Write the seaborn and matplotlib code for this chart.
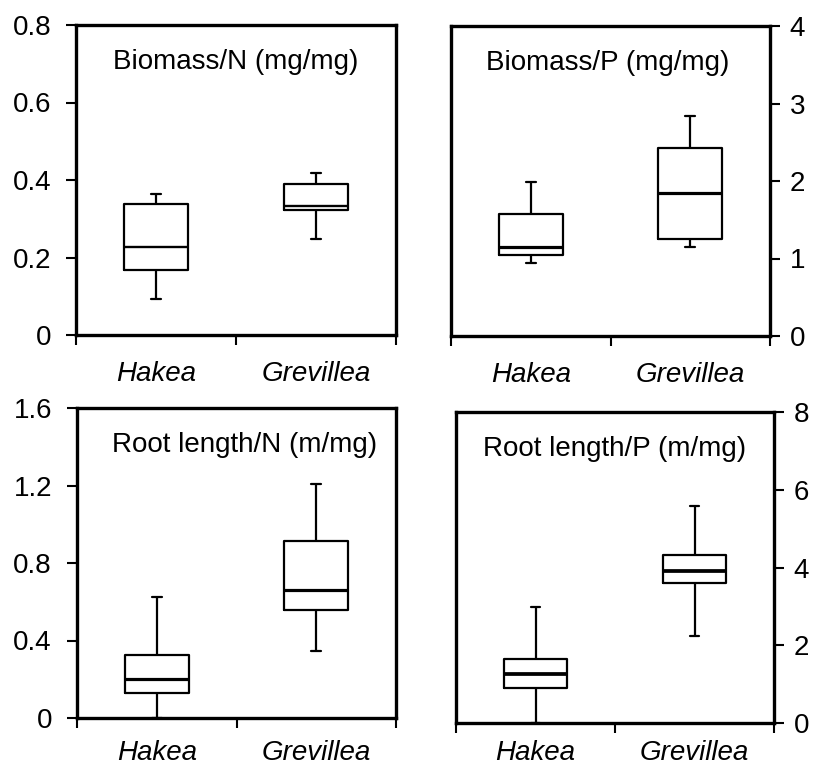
import numpy as np
import pandas as pd
import matplotlib
matplotlib.use("Agg")
import matplotlib.pyplot as plt
import seaborn as sns
from matplotlib.ticker import FixedLocator, FixedFormatter

sns.set_style("ticks")
plt.rcParams["font.family"] = ["Liberation Sans", "DejaVu Sans"]
for k in ["text.color", "axes.labelcolor", "xtick.color", "ytick.color", "axes.edgecolor"]:
    plt.rcParams[k] = "black"

genera = ["Hakea", "Grevillea"]

# five-number summaries: min, Q1, median, Q3, max
biomass_n_hakea = [0.094, 0.169, 0.226, 0.339, 0.364]
biomass_n_grevillea = [0.247, 0.322, 0.333, 0.390, 0.419]
biomass_p_hakea = [0.94, 1.045, 1.144, 1.58, 1.99]
biomass_p_grevillea = [1.15, 1.256, 1.85, 2.43, 2.84]
rootlen_n_hakea = [0.0, 0.131, 0.203, 0.326, 0.625]
rootlen_n_grevillea = [0.346, 0.560, 0.663, 0.913, 1.209]
rootlen_p_hakea = [0.0, 0.893, 1.253, 1.648, 2.98]
rootlen_p_grevillea = [2.23, 3.60, 3.90, 4.31, 5.59]

titles = ["Biomass/N (mg/mg)", "Biomass/P (mg/mg)",
          "Root length/N (m/mg)", "Root length/P (m/mg)"]
yticks_tl = [0, 0.2, 0.4, 0.6, 0.8]
yticks_tr = [0, 1, 2, 3, 4]
yticks_bl = [0, 0.4, 0.8, 1.2, 1.6]
yticks_br = [0, 2, 4, 6, 8]
ylabels_tl = ["0", "0.2", "0.4", "0.6", "0.8"]
ylabels_tr = ["0", "1", "2", "3", "4"]
ylabels_bl = ["0", "0.4", "0.8", "1.2", "1.6"]
ylabels_br = ["0", "2", "4", "6", "8"]

W, H = 814, 769
fig = plt.figure(figsize=(W / 100, H / 100), dpi=100)

def rect(l, t, r, b):
    return [l / W, (H - b) / H, (r - l) / W, (b - t) / H]

panels = [
    (rect(76, 25, 396, 335), biomass_n_hakea, biomass_n_grevillea, titles[0],
     yticks_tl, ylabels_tl, "left", 0.5, 1.7, 19),
    (rect(451, 26, 770, 336), biomass_p_hakea, biomass_p_grevillea, titles[1],
     yticks_tr, ylabels_tr, "right", 0.49, 2.3, 19),
    (rect(77, 408, 396, 718), rootlen_n_hakea, rootlen_n_grevillea, titles[2],
     yticks_bl, ylabels_bl, "left", 0.525, 2.3, 16),
    (rect(456, 412, 774, 723), rootlen_p_hakea, rootlen_p_grevillea, titles[3],
     yticks_br, ylabels_br, "right", 0.5, 2.7, 12),
]

for r, hak, grev, title, yt, yl, side, tx, mlw, xpad in panels:
    ax = fig.add_axes(r)
    df = pd.DataFrame({
        "genus": [genera[0]] * len(hak) + [genera[1]] * len(grev),
        "value": list(hak) + list(grev),
    })
    sns.boxplot(data=df, x="genus", y="value", order=genera, ax=ax,
                whis=(0, 100), width=0.4, fill=False, color="black",
                linecolor="black", linewidth=1.6, capwidths=0.06,
                medianprops=dict(linewidth=mlw, color="black"))
    ax.set_xlim(-0.5, 1.5)
    ax.set_ylim(yt[0], yt[-1])
    ax.set_xlabel("")
    ax.set_ylabel("")
    for s in ax.spines.values():
        s.set_visible(True)
        s.set_linewidth(2.4)
        s.set_color("black")
    # category labels (no tick marks) and boundary tick marks
    ax.set_xticks([0, 1])
    ax.set_xticklabels(genera, fontstyle="italic", fontsize=20)
    ax.tick_params(axis="x", which="major", length=0, pad=xpad)
    ax.xaxis.set_minor_locator(FixedLocator([-0.5, 0.5, 1.5]))
    ax.tick_params(axis="x", which="minor", length=7, width=1.5,
                   direction="out", color="black")
    ax.yaxis.set_major_locator(FixedLocator(yt))
    ax.yaxis.set_major_formatter(FixedFormatter(yl))
    if side == "left":
        ax.tick_params(axis="y", left=True, right=False, labelleft=True,
                       labelright=False, length=7, width=1.5, pad=11,
                       labelsize=20, direction="out", color="black")
    else:
        ax.tick_params(axis="y", left=False, right=True, labelleft=False,
                       labelright=True, length=7, width=1.5, pad=7,
                       labelsize=20, direction="out", color="black")
    ax.text(tx, 0.88, title, transform=ax.transAxes, ha="center",
            va="center", fontsize=20)

fig.savefig("out.png", dpi=100)
